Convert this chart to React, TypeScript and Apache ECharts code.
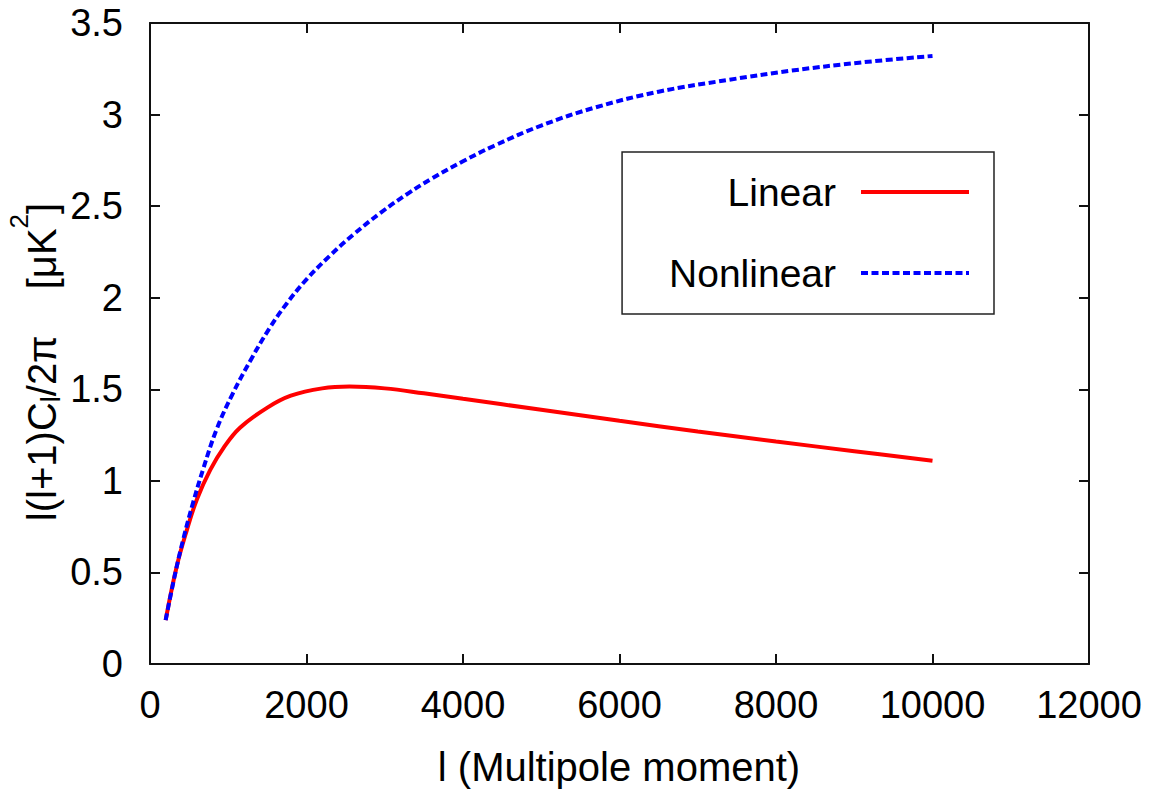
import React, { useEffect, useRef } from "react";
import * as echarts from "echarts";

// Multipole moment l and l(l+1)C_l/2π in μK² for the two power spectra
const linearL = [200, 340, 470, 600, 770, 940, 1150, 1500, 1800, 2200, 2550, 3000, 3500, 4000, 5000, 6000, 7000, 8000, 9000, 10000];
const linearCl = [0.24, 0.53, 0.73, 0.9, 1.06, 1.18, 1.29, 1.40, 1.465, 1.505, 1.515, 1.505, 1.478, 1.448, 1.388, 1.328, 1.27, 1.215, 1.162, 1.11];

const nonlinearL = [200, 320, 430, 550, 680, 850, 1050, 1300, 1530, 1750, 2000, 2300, 2600, 2950, 3300, 3600, 4000, 4400, 5000, 5700, 6500, 7400, 8200, 9100, 10000];
const nonlinearCl = [0.24, 0.49, 0.69, 0.88, 1.065, 1.28, 1.47, 1.67, 1.835, 1.97, 2.1, 2.23, 2.345, 2.465, 2.57, 2.65, 2.745, 2.83, 2.94, 3.04, 3.125, 3.19, 3.24, 3.285, 3.32];

const seriesNames = ["Linear", "Nonlinear"];
const xTitle = "l (Multipole moment)";

const FONT = "'Liberation Sans', Arial, Helvetica, sans-serif";
const FRAME = "#111";

const zip = (xs: number[], ys: number[]) => xs.map((x, i) => [x, ys[i]]);

export default function App() {
  const ref = useRef<HTMLDivElement>(null);

  useEffect(() => {
    if (!ref.current) return;
    const chart = echarts.init(ref.current, null, { renderer: "svg" });

    const frameAxis = {
      axisLine: { show: true, onZero: false, lineStyle: { color: FRAME, width: 2 } },
      axisTick: { show: true, inside: true, length: 10, lineStyle: { color: FRAME, width: 2 } },
      splitLine: { show: false },
    };
    const labelStyle = { color: "#000", fontSize: 38, fontFamily: FONT };

    chart.setOption({
      animation: false,
      backgroundColor: "#fff",
      grid: { left: 150, top: 23, right: 79, bottom: 131, containLabel: false },
      xAxis: [
        {
          type: "value", position: "bottom", min: 0, max: 12000, interval: 2000,
          ...frameAxis,
          axisLabel: { ...labelStyle, margin: 22, formatter: (v: number) => String(v) },
        },
        {
          type: "value", position: "top", min: 0, max: 12000, interval: 2000,
          ...frameAxis, axisLabel: { show: false },
        },
      ],
      yAxis: [
        {
          type: "value", position: "left", min: 0, max: 3.5, interval: 0.5,
          ...frameAxis,
          axisLabel: { ...labelStyle, margin: 27, formatter: (v: number) => String(v) },
        },
        {
          type: "value", position: "right", min: 0, max: 3.5, interval: 0.5,
          ...frameAxis, axisLabel: { show: false },
        },
      ],
      legend: {
        orient: "vertical",
        right: 174,
        top: 152,
        align: "right",
        itemWidth: 108,
        itemHeight: 14,
        itemGap: 41,
        padding: [20, 23, 21, 47],
        borderColor: "#222",
        borderWidth: 1.5,
        data: seriesNames,
        itemStyle: { opacity: 0 },
        lineStyle: { width: 4 },
        textStyle: { color: "#000", fontSize: 39, fontFamily: FONT, lineHeight: 40, padding: [0, 20, 0, 0] },
      },
      series: [
        {
          name: seriesNames[0],
          type: "line",
          data: zip(linearL, linearCl),
          symbol: "none",
          smooth: 0.4,
          lineStyle: { color: "#ff0000", width: 4 },
          itemStyle: { color: "#ff0000" },
        },
        {
          name: seriesNames[1],
          type: "line",
          data: zip(nonlinearL, nonlinearCl),
          symbol: "none",
          smooth: 0.4,
          lineStyle: { color: "#0000ff", width: 4, type: [7, 3.5] },
          itemStyle: { color: "#0000ff" },
        },
      ],
      graphic: [
        {
          type: "text",
          x: 619,
          y: 767,
          style: {
            text: xTitle,
            font: `40px ${FONT}`,
            fill: "#000",
            align: "center",
            verticalAlign: "middle",
          },
        },
        {
          type: "text",
          x: 42,
          y: 362,
          rotation: Math.PI / 2,
          style: {
            text: "{a|l(l+1)C}{sub|l}{a|/2π}{gap|\u00a0}{a|[μK}{sup|2}{a|]}",
            fill: "#000",
            align: "center",
            verticalAlign: "middle",
            rich: {
              a: { fontSize: 40, fontFamily: FONT, lineHeight: 72, fill: "#000" },
              gap: { fontSize: 40, fontFamily: FONT, lineHeight: 72, width: 46 },
              sub: { fontSize: 27, fontFamily: FONT, lineHeight: 27, verticalAlign: "bottom", padding: [0, 0, 14, 0], fill: "#000" },
              sup: { fontSize: 26, fontFamily: FONT, lineHeight: 26, verticalAlign: "top", fill: "#000" },
            },
          },
        },
      ],
    });

    return () => chart.dispose();
  }, []);

  return <div ref={ref} style={{ width: 1168, height: 795, position: "absolute", left: 0, top: 0 }} />;
}
